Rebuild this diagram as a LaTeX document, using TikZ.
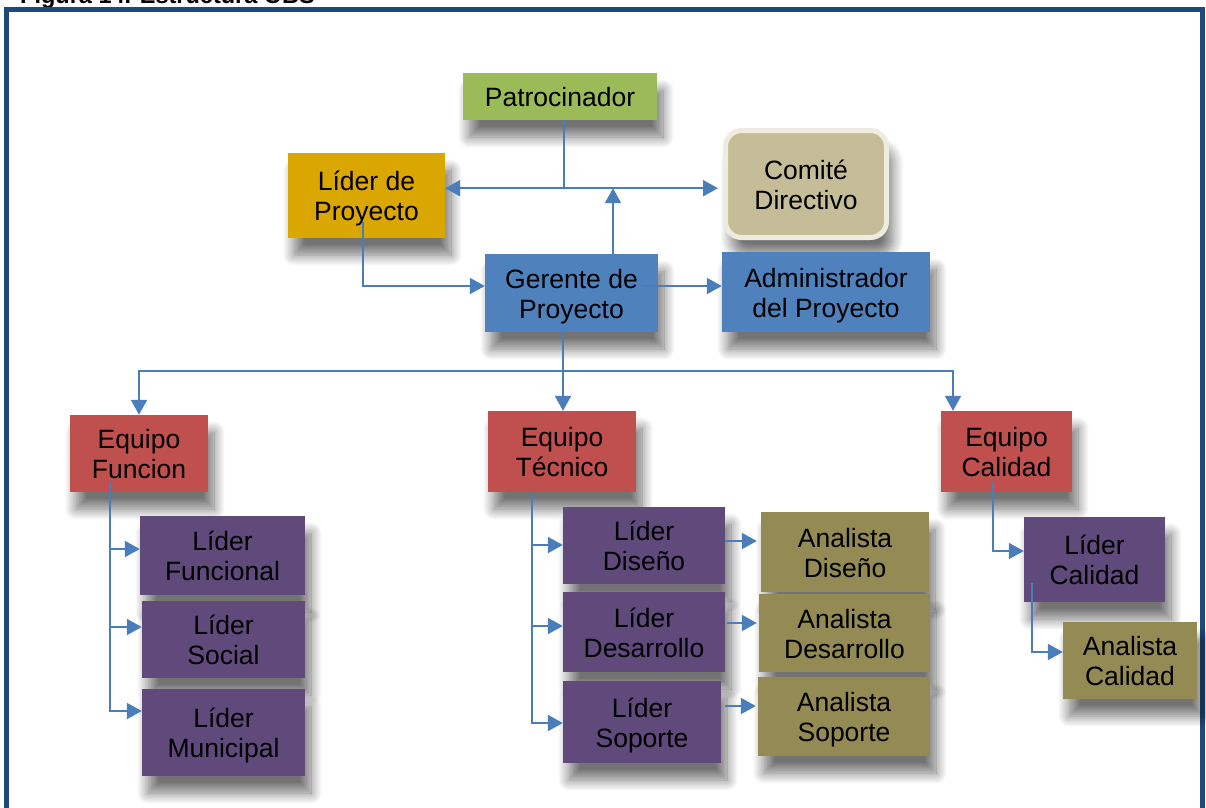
\documentclass[tikz,border=0pt]{standalone}
\usepackage{fontspec}
\setmainfont{Liberation Sans}
\usetikzlibrary{arrows.meta,shadows.blur,calc}

\definecolor{frameblue}{HTML}{1F497D}
\definecolor{linkblue}{HTML}{4A7EBB}
\definecolor{sponsorgreen}{HTML}{9BBB59}
\definecolor{leadgold}{HTML}{DAA600}
\definecolor{boardtan}{HTML}{C4BD97}
\definecolor{boardrim}{HTML}{EEECE1}
\definecolor{mgrblue}{HTML}{4F81BD}
\definecolor{teamred}{HTML}{C0504D}
\definecolor{leadpurple}{HTML}{604A7B}
\definecolor{analystolive}{HTML}{948A54}

% centred box text, set slightly below the geometric centre
\newcommand{\boxtext}[1]{\raisebox{-4pt}[\height][\depth]{\begin{tabular}{@{}c@{}}#1\end{tabular}}}

\begin{document}
\begin{tikzpicture}[x=1pt,y=1pt,
  orgbox/.style={rectangle, inner sep=0pt, text=black,
    font=\fontsize{26.5pt}{30pt}\selectfont,
    blur shadow={shadow xshift=6pt, shadow yshift=-17pt,
      shadow blur radius=11pt, shadow blur steps=14, shadow opacity=55}},
  wh/.style 2 args={minimum width=#1pt, minimum height=#2pt},
  link/.style={draw=linkblue, line width=2pt},
  arr/.style={link, -{Triangle[length=15pt,width=16pt]}}
]
\useasboundingbox (0,0) rectangle (1206,-807);

% caption and outer frame
\node[anchor=base west, inner sep=0pt,
      font=\bfseries\fontsize{23.5pt}{28pt}\selectfont] (title) at (20,-3.5)
      {Figura 14. Estructura OBS};
\draw[frameblue, line width=5pt] (6.7,-9.5) rectangle (1202,-815);

% upper management
\node[orgbox, fill=sponsorgreen, wh={194}{47}] (patro) at (560,-96.5) {\boxtext{Patrocinador}};
\node[orgbox, fill=leadgold, wh={157}{85}] (lproy) at (366.5,-195.5) {\boxtext{Líder de\\Proyecto}};
\node[orgbox, fill=boardtan, draw=boardrim, line width=5pt, rounded corners=16pt,
      wh={161}{107}] (comite) at (806,-184) {\boxtext{Comité\\Directivo}};
\node[orgbox, fill=mgrblue, wh={173}{78}] (gerente) at (571.5,-293) {\boxtext{Gerente de\\Proyecto}};
\node[orgbox, fill=mgrblue, wh={208}{80}] (admin) at (826,-292) {\boxtext{Administrador\\del Proyecto}};

% teams
\node[orgbox, fill=teamred, wh={138}{77}] (eqFun) at (139,-453.5) {\boxtext{Equipo\\Funcion}};
\node[orgbox, fill=teamred, wh={148}{81}] (eqTec) at (562,-451.5) {\boxtext{Equipo\\Técnico}};
\node[orgbox, fill=teamred, wh={131}{81}] (eqCal) at (1006.5,-451.5) {\boxtext{Equipo\\Calidad}};

% functional leads
\node[orgbox, fill=leadpurple, wh={165}{79}] (lFun) at (222.5,-555.5) {\boxtext{Líder\\Funcional}};
\node[orgbox, fill=leadpurple, wh={163}{77}] (lSoc) at (223.5,-639.5) {\boxtext{Líder\\Social}};
\node[orgbox, fill=leadpurple, wh={163}{87}] (lMun) at (223.5,-732.5) {\boxtext{Líder\\Municipal}};

% technical leads and analysts
\node[orgbox, fill=leadpurple, wh={162}{77}] (lDis) at (644,-545.5) {\boxtext{Líder\\Diseño}};
\node[orgbox, fill=analystolive, wh={168}{80}] (aDis) at (845,-552) {\boxtext{Analista\\Diseño}};
\node[orgbox, fill=leadpurple, wh={162}{80}] (lDes) at (644,-632) {\boxtext{Líder\\Desarrollo}};
\node[orgbox, fill=analystolive, wh={171}{78}] (aDes) at (844.5,-633) {\boxtext{Analista\\Desarrollo}};
\node[orgbox, fill=leadpurple, wh={158}{82}] (lSop) at (642,-722) {\boxtext{Líder\\Soporte}};
\node[orgbox, fill=analystolive, wh={172}{79}] (aSop) at (844,-716.5) {\boxtext{Analista\\Soporte}};

% quality lead and analyst
\node[orgbox, fill=leadpurple, wh={141}{85}] (lCal) at (1094.5,-559.5) {\boxtext{Líder\\Calidad}};
\node[orgbox, fill=analystolive, wh={134}{77}] (aCal) at (1130,-660.5) {\boxtext{Analista\\Calidad}};

% sponsor to project lead and board
\coordinate (ps) at ([xshift=4pt]patro.south);
\coordinate (sj) at ($(ps)+(0,-68)$);
\draw[link] (ps) -- (sj);
\draw[arr] (sj) -- (sj -| lproy.east);
\draw[arr, shorten >=5pt] (sj) -- (sj -| comite.west);

% manager up to the sponsor line
\coordinate (gn) at ([xshift=41.5pt]gerente.north);
\draw[arr] (gn) -- (gn |- sj);

% project lead to manager, manager to administrator
\coordinate (lp) at ([xshift=-3.5pt,yshift=16pt]lproy.south);
\draw[arr] (lp) |- ([yshift=7pt]gerente.west);
\coordinate (ga) at ([xshift=-15pt,yshift=7pt]gerente.east);
\draw[arr] (ga) -- (ga -| admin.west);

% manager to the three teams
\coordinate (bus) at ($(gerente.south)+(-8.5,-39)$);
\draw[link] (gerente.south -| bus) -- (bus);
\draw[arr] (bus) -| (eqFun.north);
\draw[arr] (bus) -- (bus |- eqTec.north);
\draw[arr] (bus) -| ([xshift=-53.5pt]eqCal.north);

% functional team branches
\coordinate (ft) at ([xshift=-29pt,yshift=10pt]eqFun.south);
\draw[arr] (ft) |- ([yshift=6.5pt]lFun.west);
\draw[arr] (ft) |- ([yshift=12.5pt]lSoc.west);
\draw[arr] (ft) |- ([yshift=21.5pt]lMun.west);

% technical team branches
\coordinate (tt) at ([xshift=-30pt,yshift=-2pt]eqTec.south);
\draw[arr] (tt) |- ([yshift=0.5pt]lDis.west);
\draw[arr] (tt) |- ([yshift=6pt]lDes.west);
\draw[arr] (tt) |- ([yshift=-1pt]lSop.west);

% technical leads to analysts
\coordinate (d1) at ([yshift=4.5pt]lDis.east);
\draw[arr, shorten >=4pt] (d1) -- (d1 -| aDis.west);
\coordinate (d2) at ([xshift=2pt,yshift=9pt]lDes.east);
\draw[arr, shorten >=2pt] (d2) -- (d2 -| aDes.west);
\coordinate (d3) at ([xshift=4pt,yshift=16pt]lSop.east);
\draw[arr, shorten >=2pt] (d3) -- (d3 -| aSop.west);

% quality team chain
\coordinate (ct) at ([xshift=-13.5pt,yshift=10pt]eqCal.south);
\draw[arr] (ct) |- ([yshift=8.5pt]lCal.west);
\coordinate (lc) at ([xshift=-62.5pt,yshift=19pt]lCal.south);
\draw[arr] (lc) |- ([yshift=8.5pt]aCal.west);
\end{tikzpicture}
\end{document}
